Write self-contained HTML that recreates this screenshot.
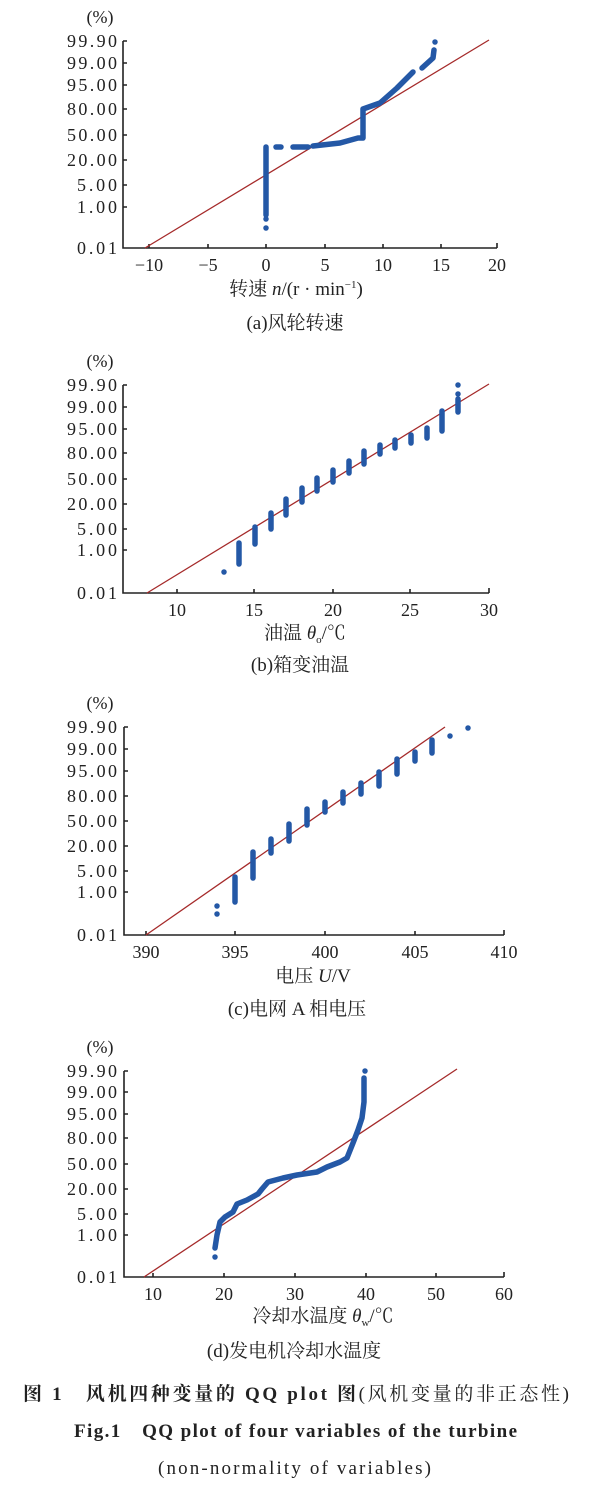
<!DOCTYPE html>
<html><head><meta charset="utf-8"><style>
body{margin:0;background:#fff}
svg{display:block}
text{font-family:"Liberation Serif","Noto Serif CJK SC",serif;fill:#222}
.t{font-size:18px}
.c{font-size:19px}
</style></head><body>
<svg width="600" height="1487" viewBox="0 0 600 1487" xmlns="http://www.w3.org/2000/svg">
<g stroke="#222" stroke-width="1.6" fill="none">
<path d="M123 41V248H497"/>
<path d="M123 41h4M123 63h4M123 85h4M123 109h4M123 135h4M123 160h4M123 185h4M123 207h4"/>
<path d="M149 248v-4M208 248v-4M266 248v-4M325 248v-4M383 248v-4M441 248v-4M497 248v-5"/>
<path d="M123 385V593H489"/>
<path d="M123 385h4M123 407h4M123 429h4M123 453h4M123 479h4M123 504h4M123 529h4M123 550h4"/>
<path d="M177 593v-4M254 593v-4M333 593v-4M410 593v-4M489 593v-5"/>
<path d="M124 727V935H504"/>
<path d="M124 727h4M124 749h4M124 771h4M124 796h4M124 821h4M124 846h4M124 871h4M124 892h4"/>
<path d="M146 935v-4M235 935v-4M325 935v-4M415 935v-4M504 935v-5"/>
<path d="M124 1071V1277H504"/>
<path d="M124 1071h4M124 1092h4M124 1114h4M124 1138h4M124 1164h4M124 1189h4M124 1214h4M124 1235h4"/>
<path d="M153 1277v-4M224 1277v-4M295 1277v-4M366 1277v-4M436 1277v-4M504 1277v-5"/>
</g>
<g stroke="#a52a2a" stroke-width="1.3">
<line x1="145" y1="248" x2="489" y2="40"/>
<line x1="147" y1="593" x2="489" y2="384"/>
<line x1="146" y1="935" x2="445" y2="727"/>
<line x1="144" y1="1277" x2="457" y2="1069"/>
</g>
<g stroke="#2458a6" stroke-width="5.5" stroke-linecap="round" stroke-linejoin="round" fill="none">
<path d="M266 147V215M266 219v0M266 228v0M276 147h5M293 147h15M313 146L340 143L358 138L363 138V109L380 103L397 88L413 72M422 68L433 58L434 50M435 42v0"/>
<path d="M224 572v0M239 543v21M255 527v17M271 513v16M286 499v16M302 488v14M317 478v13M333 470v12M349 461v12M364 451v13M380 445v9M395 440v8M411 435v8M427 428v10M442 411v20M458 399v13M458 394v0M458 385v0"/>
<path d="M217 906v0M217 914v0M235 877v25M253 852v26M271 839v14M289 824v17M307 809v16M325 802v10M343 792v11M361 783v11M379 772v14M397 759v15M415 752v9M432 740v13M450 736v0M468 728v0"/>
<path d="M215 1257v0M215 1248L217 1235L220 1222L225 1217L233 1212L237 1204L247 1200L258 1194L262 1189L268 1182L283 1178L297 1175L317 1172L327 1167L340 1162L347 1158L353 1143L358 1130L362 1118L364 1102L364 1085L364 1078M365 1071v0"/>
</g>
<g class="t" text-anchor="end">
<text x="100" y="23" text-anchor="middle">(%)</text>
<text x="117" y="47" textLength="50">99.90</text><text x="117" y="69" textLength="50">99.00</text><text x="117" y="91" textLength="50">95.00</text><text x="117" y="115" textLength="50">80.00</text><text x="117" y="141" textLength="50">50.00</text><text x="117" y="166" textLength="50">20.00</text><text x="117" y="191" textLength="40">5.00</text><text x="117" y="213" textLength="40">1.00</text><text x="117" y="254" textLength="40">0.01</text>
<text x="100" y="367" text-anchor="middle">(%)</text>
<text x="117" y="391" textLength="50">99.90</text><text x="117" y="413" textLength="50">99.00</text><text x="117" y="435" textLength="50">95.00</text><text x="117" y="459" textLength="50">80.00</text><text x="117" y="485" textLength="50">50.00</text><text x="117" y="510" textLength="50">20.00</text><text x="117" y="535" textLength="40">5.00</text><text x="117" y="556" textLength="40">1.00</text><text x="117" y="599" textLength="40">0.01</text>
<text x="100" y="709" text-anchor="middle">(%)</text>
<text x="117" y="733" textLength="50">99.90</text><text x="117" y="755" textLength="50">99.00</text><text x="117" y="777" textLength="50">95.00</text><text x="117" y="802" textLength="50">80.00</text><text x="117" y="827" textLength="50">50.00</text><text x="117" y="852" textLength="50">20.00</text><text x="117" y="877" textLength="40">5.00</text><text x="117" y="898" textLength="40">1.00</text><text x="117" y="941" textLength="40">0.01</text>
<text x="100" y="1053" text-anchor="middle">(%)</text>
<text x="117" y="1077" textLength="50">99.90</text><text x="117" y="1098" textLength="50">99.00</text><text x="117" y="1120" textLength="50">95.00</text><text x="117" y="1144" textLength="50">80.00</text><text x="117" y="1170" textLength="50">50.00</text><text x="117" y="1195" textLength="50">20.00</text><text x="117" y="1220" textLength="40">5.00</text><text x="117" y="1241" textLength="40">1.00</text><text x="117" y="1283" textLength="40">0.01</text>
</g>
<g class="t" text-anchor="middle">
<text x="149" y="271">−10</text><text x="208" y="271">−5</text><text x="266" y="271">0</text><text x="325" y="271">5</text><text x="383" y="271">10</text><text x="441" y="271">15</text><text x="497" y="271">20</text>
<text x="177" y="616">10</text><text x="254" y="616">15</text><text x="333" y="616">20</text><text x="410" y="616">25</text><text x="489" y="616">30</text>
<text x="146" y="958">390</text><text x="235" y="958">395</text><text x="325" y="958">400</text><text x="415" y="958">405</text><text x="504" y="958">410</text>
<text x="153" y="1300">10</text><text x="224" y="1300">20</text><text x="295" y="1300">30</text><text x="366" y="1300">40</text><text x="436" y="1300">50</text><text x="504" y="1300">60</text>
</g>
<g class="c" text-anchor="middle">
<text x="296" y="295">转速 <tspan font-style="italic">n</tspan>/(r · min<tspan font-size="11" dy="-7">−1</tspan><tspan dy="7">)</tspan></text>
<text x="295" y="329">(a)风轮转速</text>
<text x="305" y="639">油温 <tspan font-style="italic">θ</tspan><tspan font-size="11" dy="4">o</tspan><tspan dy="-4">/℃</tspan></text>
<text x="300" y="671">(b)箱变油温</text>
<text x="313" y="982">电压 <tspan font-style="italic">U</tspan>/V</text>
<text x="297" y="1015">(c)电网 A 相电压</text>
<text x="323" y="1322">冷却水温度 <tspan font-style="italic">θ</tspan><tspan font-size="11" dy="4">w</tspan><tspan dy="-4">/℃</tspan></text>
<text x="294" y="1357">(d)发电机冷却水温度</text>
</g>
<text x="23" y="1400" font-size="19" font-weight="bold" textLength="546">图 1　风机四种变量的 QQ plot 图<tspan font-weight="normal">(风机变量的非正态性)</tspan></text>
<text x="74" y="1437" font-size="19" font-weight="bold" textLength="443">Fig.1　QQ plot of four variables of the turbine</text>
<text x="158" y="1474" font-size="19" textLength="273">(non-normality of variables)</text>
</svg>
</body></html>
